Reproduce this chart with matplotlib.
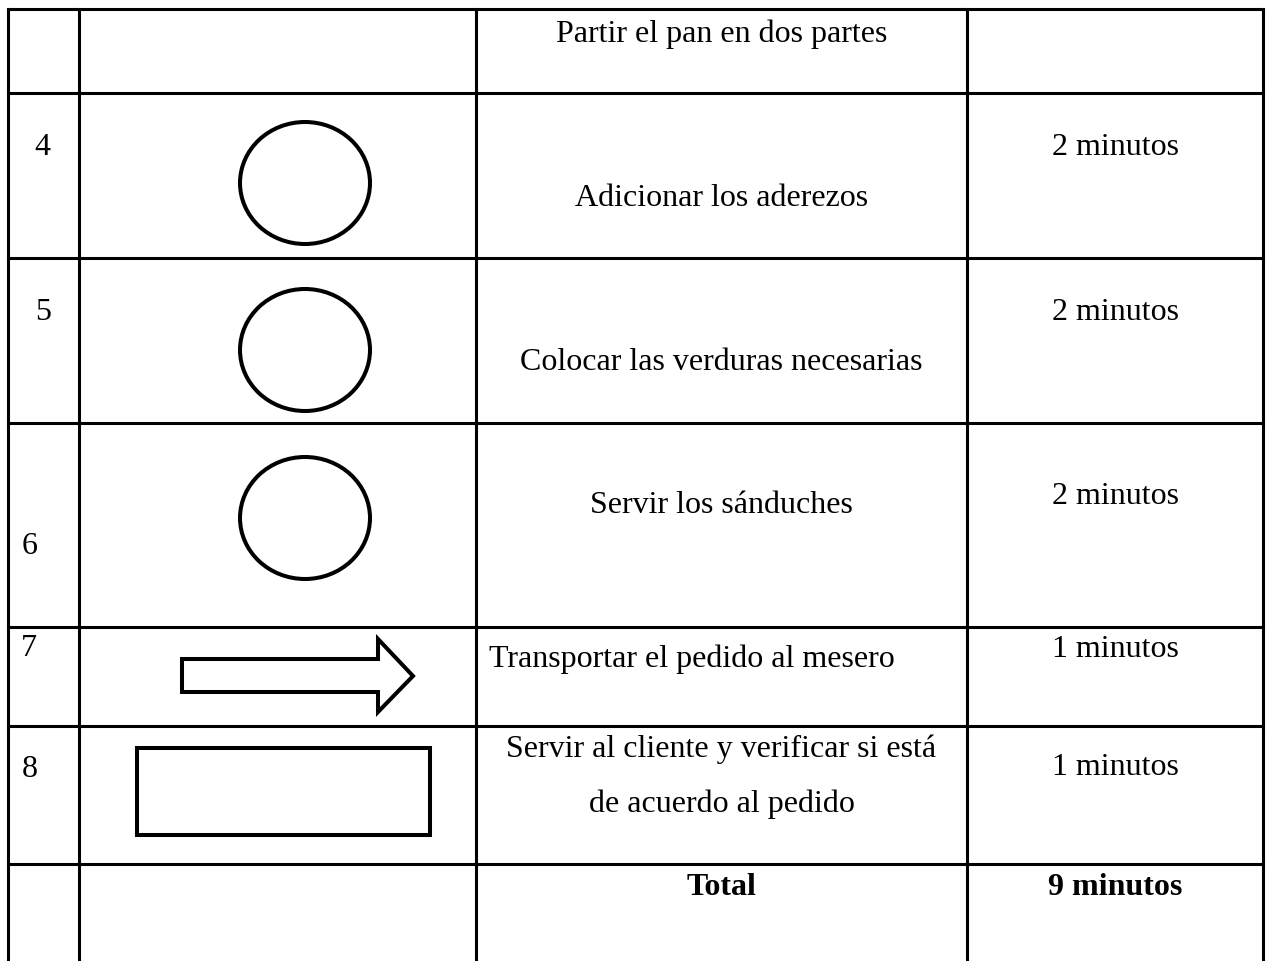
import matplotlib
matplotlib.use('Agg')
from matplotlib import pyplot as plt
from matplotlib.patches import Ellipse, Rectangle, Polygon

plt.rcParams['font.family'] = ['Liberation Serif', 'DejaVu Serif']
fontsize = 23

# Datos de la tabla (filas visibles)
numeros = ['', '4', '5', '6', '7', '8', '']
simbolos = ['', 'circulo', 'circulo', 'circulo', 'flecha', 'rectangulo', '']
actividades = ['Partir el pan en dos partes',
               'Adicionar los aderezos',
               'Colocar las verduras necesarias',
               'Servir los sánduches',
               'Transportar el pedido al mesero',
               'Servir al cliente y verificar si está\nde acuerdo al pedido',
               'Total']
tiempos = ['', '2 minutos', '2 minutos', '2 minutos', '1 minutos', '1 minutos', '9 minutos']

# Layout en pixeles
W, H = 1267, 962
col_x = [8, 79, 476, 967, 1263]
fila_y = [10, 94, 259, 424, 628, 727, 865]
num_pos = [None, (42, 155), (43, 320), (30, 554), (29, 656), (30, 777), None]
act_base = [42, 206, 370, 513, 667, 757, 895]
tiempo_base = [None, 155, 320, 504, 657, 775, 895]
simbolo_cy = [None, 184, 351, 519, 677, 792, None]

fig = plt.figure(figsize=(W/100, H/100), dpi=100)
ax = fig.add_axes([0, 0, 1, 1])
ax.set_xlim(0, W)
ax.set_ylim(H, 0)
ax.axis('off')

lw = 2.2
for x in col_x:
    ax.plot([x, x], [fila_y[0], H], color='black', lw=lw, solid_capstyle='projecting')
for y in fila_y:
    ax.plot([col_x[0], col_x[-1]], [y, y], color='black', lw=lw, solid_capstyle='projecting')

cx_act = (col_x[2] + col_x[3]) / 2
cx_t = (col_x[3] + col_x[4]) / 2

for i in range(len(actividades)):
    if num_pos[i] is not None:
        ax.text(num_pos[i][0], num_pos[i][1], numeros[i], fontsize=fontsize,
                ha='center', va='baseline')
    peso = 'bold' if actividades[i] == 'Total' else 'normal'
    if simbolos[i] == 'flecha':
        ax.text(489, act_base[i], actividades[i], fontsize=fontsize,
                ha='left', va='baseline')
    elif '\n' in actividades[i]:
        lineas = actividades[i].split('\n')
        for k, l in enumerate(lineas):
            ax.text(cx_act, act_base[i] + 55*k, l, fontsize=fontsize,
                    ha='center', va='baseline')
    else:
        ax.text(cx_act, act_base[i], actividades[i], fontsize=fontsize,
                ha='center', va='baseline', fontweight=peso)
    if tiempos[i]:
        ax.text(cx_t, tiempo_base[i], tiempos[i], fontsize=fontsize,
                ha='center', va='baseline', fontweight=peso)

    cy = simbolo_cy[i]
    if simbolos[i] == 'circulo':
        ax.add_patch(Ellipse((305, cy), 130, 122, fill=False, ec='black', lw=2.9))
    elif simbolos[i] == 'flecha':
        pts = [(182, cy-17), (378, cy-17), (378, cy-37), (413, cy),
               (378, cy+36), (378, cy+16), (182, cy+16)]
        ax.add_patch(Polygon(pts, closed=True, fill=False, ec='black', lw=2.9,
                             joinstyle='miter'))
    elif simbolos[i] == 'rectangulo':
        ax.add_patch(Rectangle((137, cy-43), 293, 87, fill=False, ec='black',
                               lw=2.9))

fig.savefig('out.png', dpi=100, facecolor='white')
plt.close()
